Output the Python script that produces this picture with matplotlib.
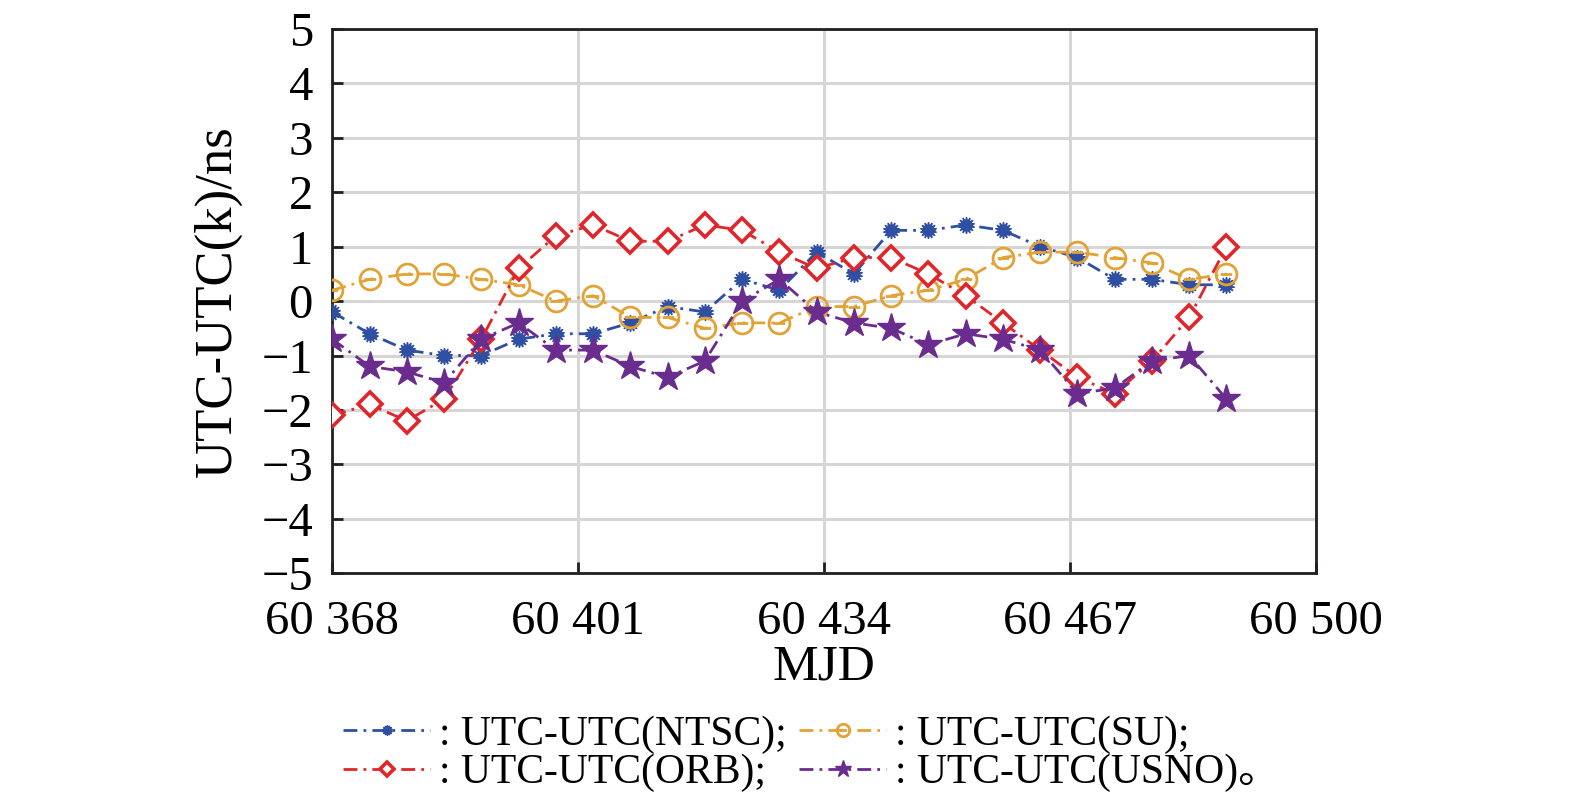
import numpy as np
import matplotlib
matplotlib.use("Agg")
import matplotlib.pyplot as plt
from matplotlib.path import Path

plt.rcParams['font.family'] = ['Liberation Serif', 'Noto Sans CJK SC']
plt.rcParams['axes.unicode_minus'] = True

# MJD sample days (every 5 days)
mjd = np.arange(60368, 60489, 5)

ntsc = [-0.2, -0.6, -0.9, -1.0, -1.0, -0.7, -0.6, -0.6, -0.4, -0.1, -0.2, 0.4, 0.2,
        0.9, 0.5, 1.3, 1.3, 1.4, 1.3, 1.0, 0.8, 0.4, 0.4, 0.3, 0.3]
su = [0.2, 0.4, 0.5, 0.5, 0.4, 0.3, 0.0, 0.1, -0.3, -0.3, -0.5, -0.4, -0.4,
      -0.1, -0.1, 0.1, 0.2, 0.4, 0.8, 0.9, 0.9, 0.8, 0.7, 0.4, 0.5]
orb = [-2.1, -1.9, -2.2, -1.8, -0.7, 0.6, 1.2, 1.4, 1.1, 1.1, 1.4, 1.3, 0.9,
       0.6, 0.8, 0.8, 0.5, 0.1, -0.4, -0.9, -1.4, -1.7, -1.1, -0.3, 1.0]
usno = [-0.7, -1.2, -1.3, -1.5, -0.7, -0.4, -0.9, -0.9, -1.2, -1.4, -1.1, 0.0, 0.4,
        -0.2, -0.4, -0.5, -0.8, -0.6, -0.7, -0.9, -1.7, -1.6, -1.1, -1.0, -1.8]

xticks = [60368, 60401, 60434, 60467, 60500]
xtick_labels = ["60 368", "60 401", "60 434", "60 467", "60 500"]
yticks = list(range(-5, 6))

labels = [": UTC-UTC(NTSC);", ": UTC-UTC(SU);", ": UTC-UTC(ORB);", ": UTC-UTC(USNO)\u3002"]
colors = ["#2F4FA2", "#E2A235", "#E0262B", "#6A2C8E"]

# circle with a bar through it
circ_bar = Path.make_compound_path(Path.unit_circle(),
                                   Path([[-0.55, 0.0], [0.55, 0.0]]))

fig = plt.figure(figsize=(15.75, 7.95), dpi=100)
ax = fig.add_axes([0.211, 0.279, 0.6245, 0.6845])

ls = (0, (5, 2.2, 1, 2.2))
lw = 2.0
h_ntsc, = ax.plot(mjd, ntsc, color=colors[0], lw=lw, ls=ls, marker=(14, 1, 0),
                  ms=12, mec=colors[0], mfc=colors[0], zorder=3)
h_su, = ax.plot(mjd, su, color=colors[1], lw=lw, ls=ls, marker=circ_bar,
                ms=15, mec=colors[1], mfc='none', mew=2.0, zorder=3)
h_orb, = ax.plot(mjd, orb, color=colors[2], lw=lw, ls=ls, marker='D',
                 ms=12.5, mec=colors[2], mfc='white', mew=2.6, zorder=3)
h_usno, = ax.plot(mjd, usno, color=colors[3], lw=lw, ls=ls, marker='*',
                  ms=21, mec=colors[3], mfc=colors[3], zorder=4)

ax.set_xlim(60368, 60500)
ax.set_ylim(-5, 5)
ax.set_xticks(xticks)
ax.set_xticklabels(xtick_labels)
ax.set_yticks(yticks)
ax.grid(True, color="#d6d6d6", lw=2.2, zorder=0)
ax.set_axisbelow(True)
for s in ax.spines.values():
    s.set_linewidth(2.0)
    s.set_color("#231f20")
ax.tick_params(direction='in', length=8, width=2, labelsize=35, color="#231f20",
               top=False, right=False)
ax.tick_params(axis='y', pad=14)
ax.tick_params(axis='x', pad=19)

ax.set_xlabel("MJD", fontsize=37, labelpad=0)
ax.set_ylabel("UTC-UTC(k)/ns", fontsize=38, labelpad=14)

fig.legend([h_ntsc, h_orb, h_su, h_usno],
           [labels[0], labels[2], labels[1], labels[3]],
           ncol=2, loc='center', bbox_to_anchor=(0.515, 0.052),
           frameon=False, fontsize=30, handlelength=2.1, handletextpad=0.2,
           columnspacing=0.3, labelspacing=0.0, markerscale=0.6)

fig.savefig("out.png", dpi=100)
